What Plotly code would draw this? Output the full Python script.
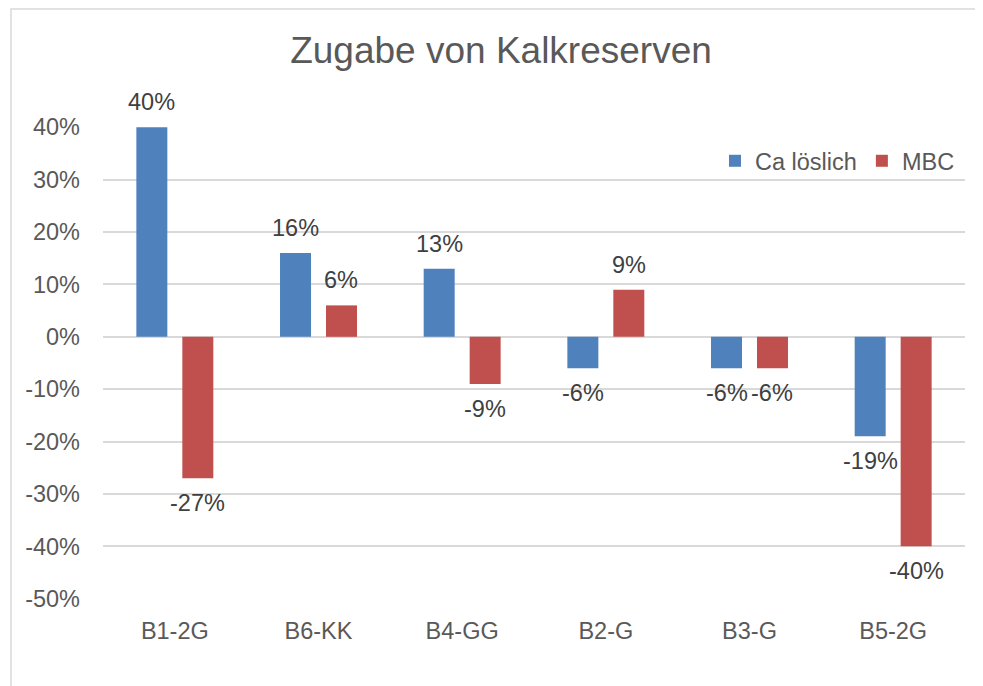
import plotly.graph_objects as go

categories = ["B1-2G", "B6-KK", "B4-GG", "B2-G", "B3-G", "B5-2G"]
ca_loeslich = [40, 16, 13, -6, -6, -19]
mbc = [-27, 6, -9, 9, -6, -40]
y_ticks = [-50, -40, -30, -20, -10, 0, 10, 20, 30, 40]
y_tick_labels = [f"{v}%" for v in y_ticks]

# the page body adds an 8px offset; design in page coords minus 8
OFF = 8
W, H = 983 - OFF, 686 - OFF
L, T = 103 - OFF, 127 - OFF
R, B = W - (965 - OFF), H - (599 - OFF)
pw, ph = W - L - R, H - T - B
BARGAP, BARGROUPGAP = 0.36, 0.326

def px_x(x):
    return (x - OFF - L) / pw

def px_y(y):
    return (H - B - (y - OFF)) / ph

font = "Liberation Sans, Arial, sans-serif"
axis_col = "#595959"
label_col = "#404040"

series = [("Ca löslich", ca_loeslich, "#4F81BD"), ("MBC", mbc, "#C0504D")]

fig = go.Figure()
for name, vals, col in series:
    fig.add_trace(go.Bar(
        name=name, x=categories, y=vals,
        marker=dict(color=col, line=dict(width=0)),
        hovertemplate="%{x}: %{y}%<extra>" + name + "</extra>",
    ))

# data labels, placed outside the bar ends like Excel
cat_w = pw / len(categories)
slot = (1 - BARGAP) * cat_w / len(series)
annotations = []
for i, (name, vals, col) in enumerate(series):
    xshift = (i - (len(series) - 1) / 2) * slot
    for c, v in zip(categories, vals):
        annotations.append(dict(
            x=c, y=v, xref="x", yref="y", text=f"{v}%", showarrow=False,
            xshift=xshift, xanchor="center",
            yanchor="bottom" if v >= 0 else "top",
            yshift=10 if v >= 0 else -10,
            font=dict(family=font, size=23.5, color=label_col),
        ))

fig.update_layout(
    width=W, height=H,
    margin=dict(l=L, r=R, t=T, b=B, autoexpand=False),
    paper_bgcolor="white", plot_bgcolor="white",
    barmode="group", bargap=BARGAP, bargroupgap=BARGROUPGAP,
    font=dict(family=font, size=23.5, color=axis_col),
    title=dict(text="Zugabe von Kalkreserven", x=(501 - OFF) / W, xanchor="center",
               y=1 - (50 - OFF) / H, yanchor="middle", yref="container",
               font=dict(family=font, size=37, color=axis_col)),
    showlegend=True,
    legend=dict(orientation="h", x=px_x(715), xanchor="left",
                y=px_y(161), yanchor="middle", bgcolor="rgba(0,0,0,0)",
                font=dict(family=font, size=23.5, color=axis_col),
                itemclick=False, traceorder="normal"),
    xaxis=dict(type="category", showgrid=False, zeroline=False, showline=False,
               ticks="", ticklabelstandoff=15,
               tickfont=dict(family=font, size=23.5, color=axis_col)),
    yaxis=dict(range=[-50.05, 40.05], tickvals=y_ticks, ticktext=y_tick_labels,
               showgrid=True, gridcolor="#D9D9D9", gridwidth=1.5,
               zeroline=True, zerolinecolor="#D9D9D9", zerolinewidth=1.5,
               showline=False, ticks="", ticklabelstandoff=22,
               tickfont=dict(family=font, size=23.5, color=axis_col)),
    annotations=annotations,
    shapes=[dict(type="rect", xref="paper", yref="paper",
                 x0=px_x(11), x1=px_x(1010), y0=px_y(720), y1=px_y(9),
                 line=dict(color="#D9D9D9", width=1.5), fillcolor="rgba(0,0,0,0)",
                 layer="below")],
)

fig.write_html("out.html")
